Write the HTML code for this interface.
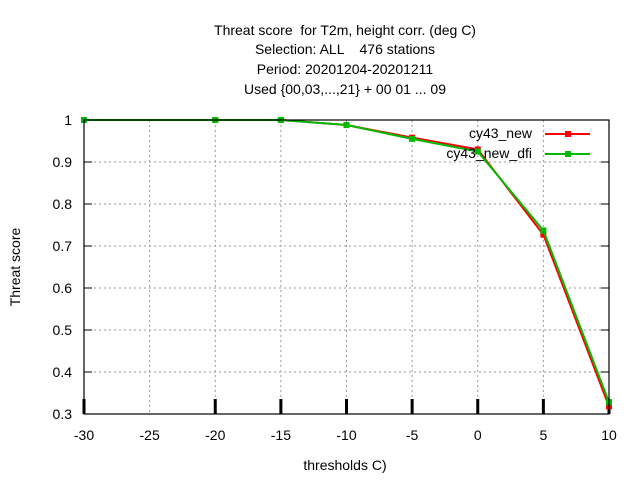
<!DOCTYPE html>
<html><head><meta charset="utf-8"><style>body{margin:0;background:#fff}svg{display:block;font-family:"Liberation Sans",sans-serif}text{white-space:pre}</style></head>
<body>
<svg id="c" width="640" height="480">
<g font-size="14" text-anchor="middle" fill="#000">
<text x="345" y="35" xml:space="preserve">Threat score  for T2m, height corr. (deg C)</text>
<text x="345" y="54" xml:space="preserve">Selection: ALL    476 stations</text>
<text x="345" y="74">Period: 20201204-20201211</text>
<text x="345" y="94">Used {00,03,...,21} + 00 01 ... 09</text>
</g>
<g id="grid"></g><g id="ticks"></g><g id="series"></g>
<rect x="84" y="120" width="525" height="294" fill="none" stroke="#000" stroke-width="1.2"/>
<text x="20" y="267" font-size="14" text-anchor="middle" transform="rotate(-90 20 267)">Threat score</text>
<text x="345" y="470" font-size="14" text-anchor="middle">thresholds C)</text>
<g font-size="14">
<text x="532" y="138" text-anchor="end">cy43_new</text>
<line x1="545" y1="134" x2="590" y2="134" stroke="#f00" stroke-width="2"/>
<rect x="565" y="131" width="6" height="6" fill="#f00"/>
<text x="532" y="158" text-anchor="end">cy43_new_dfi</text>
<line x1="545" y1="154" x2="590" y2="154" stroke="#0b0" stroke-width="2"/>
<rect x="565" y="151" width="6" height="6" fill="#0b0"/>
</g>
</svg>
<script>
const thresholds=[-30,-20,-15,-10,-5,0,5,10];
const cy43New=[1,1,1,0.988,0.958,0.93,0.727,0.318];
const cy43NewDfi=[1,1,1,0.988,0.955,0.925,0.737,0.328];
const xTicks=[-30,-25,-20,-15,-10,-5,0,5,10];
const yTicks=[0.3,0.4,0.5,0.6,0.7,0.8,0.9,1];
const yTickLabels=["0.3","0.4","0.5","0.6","0.7","0.8","0.9","1"];
const NS="http://www.w3.org/2000/svg";
const X=v=>84+(v+30)*525/40, Y=v=>414-(v-0.3)*294/0.7;
function mk(p,t,a){const e=document.createElementNS(NS,t);for(const k in a)e.setAttribute(k,a[k]);p.appendChild(e);return e;}
const grid=document.getElementById('grid'),ticks=document.getElementById('ticks'),ser=document.getElementById('series');
xTicks.forEach(v=>{
 if(v>-30&&v<10){const l=mk(grid,'line',{x1:X(v),x2:X(v),y1:120,y2:414,stroke:'#999','stroke-dasharray':'2,3'});
 
 }
 const t=mk(ticks,'text',{x:X(v),y:440,'font-size':14,'text-anchor':'middle'});t.textContent=v;
 
 
});
yTicks.forEach((v,i)=>{
 if(v>0.3&&v<1){const l=mk(grid,'line',{x1:84,x2:609,y1:Y(v),y2:Y(v),stroke:'#999','stroke-dasharray':'2,3'});
 
 
 mk(ticks,'line',{x1:84,x2:92,y1:Y(v),y2:Y(v),stroke:'#000'});mk(ticks,'line',{x1:601,x2:609,y1:Y(v),y2:Y(v),stroke:'#000'});}
 const t=mk(ticks,'text',{x:72,y:Y(v)+5,'font-size':14,'text-anchor':'end'});t.textContent=yTickLabels[i];
 
 
});
thresholds.forEach(v=>{const m=mk(ticks,'line',{x1:X(v),x2:X(v),y1:399,y2:414,stroke:'#000','stroke-width':3});
 
 });
[[cy43New,'#f00','cy43-new'],[cy43NewDfi,'#0b0','cy43-new-dfi']].forEach(([d,c,n])=>{
 const p=mk(ser,'polyline',{points:d.map((v,i)=>X(thresholds[i])+','+Y(v)).join(' '),fill:'none',stroke:c,'stroke-width':2});
 
 
 d.forEach((v,i)=>{const r=mk(ser,'rect',{x:X(thresholds[i])-3,y:Y(v)-3,width:6,height:6,fill:c});
 
 });
});
</script>
</body></html>
